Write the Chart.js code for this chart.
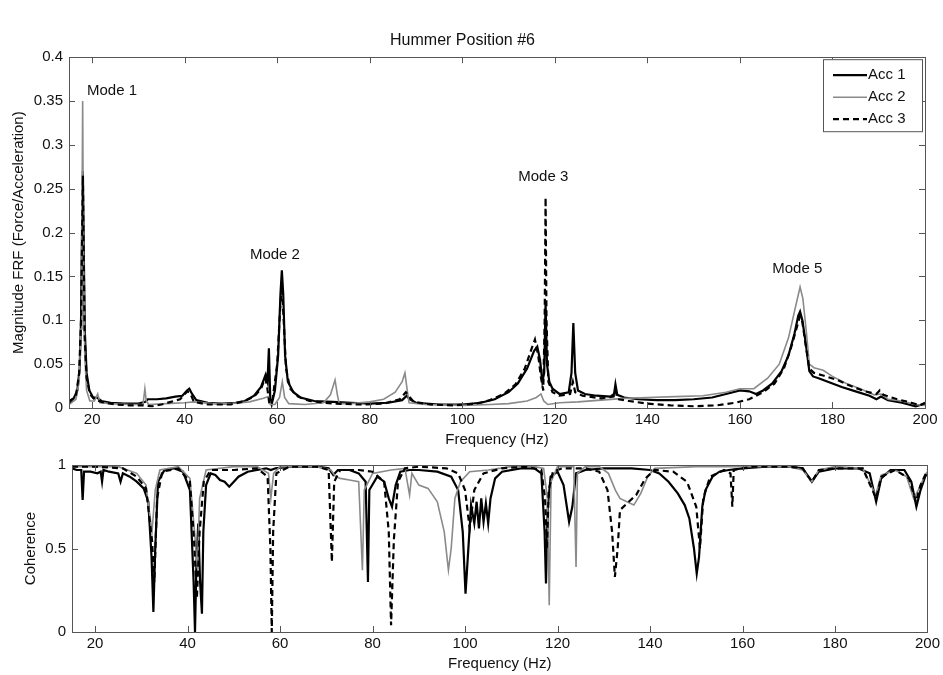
<!DOCTYPE html>
<html>
<head>
<meta charset="utf-8">
<script src="https://cdn.jsdelivr.net/npm/chart.js@4.4.0/dist/chart.umd.min.js"></script>
<style>
  body { margin: 0; background: #fff; }
  #wrap { position: relative; width: 943px; height: 675px; }
  canvas { position: absolute; left: 0; }
  #frf { top: 0; }
  #coh { top: 450px; }
</style>
</head>
<body>
<div id="wrap">
  <canvas id="frf" width="943" height="455"></canvas>
  <canvas id="coh" width="943" height="225"></canvas>
</div>
<script>
// ---- data ----
const seriesNames = ['Acc 1', 'Acc 2', 'Acc 3'];
const xTicks = [20, 40, 60, 80, 100, 120, 140, 160, 180, 200];
const frfTicks = [0, 0.05, 0.1, 0.15, 0.2, 0.25, 0.3, 0.35, 0.4];
const cohTicks = [0, 0.5, 1];

const modeLabels = ['Mode 1', 'Mode 2', 'Mode 3', 'Mode 5'];
const modeFreq = [24.3, 59.5, 117.5, 172.4];
const modeLevel = [0.362, 0.175, 0.263, 0.159];

// top: magnitude FRF
const frf1F = [15,16,16.8,17.3,17.6,17.85,18.0,18.15,18.4,18.8,19.4,20.2,21,22,24,27,30,31.5,32,34,36,38,39.5,40.5,41,41.6,42.5,45,48,51,53,55,56.5,57.5,57.9,58.2,58.5,58.8,59.5,60.2,60.7,61,61.3,61.7,62.3,63.5,65,68,72,76,80,84,87,88,88.6,90,95,100,104,107,110,112,114,115.5,116.2,116.8,117.3,117.7,118,118.3,118.8,119.5,121,123,123.6,124,124.4,125,126.5,129,132,132.8,133.1,133.5,135,138,142,146,150,154,157,160,162,163.5,165,167,169,170.5,171.8,172.6,173,173.5,174.2,175,175.8,177,179,182,185,188,189.5,190.5,192,195,198,200];
const frf1 = [0.008,0.011,0.02,0.045,0.1,0.22,0.27,0.2,0.09,0.04,0.02,0.012,0.012,0.008,0.006,0.005,0.005,0.007,0.01,0.01,0.011,0.013,0.014,0.02,0.022,0.016,0.009,0.006,0.005,0.006,0.008,0.014,0.024,0.038,0.03,0.068,0.01,0.004,0.02,0.06,0.13,0.157,0.13,0.06,0.03,0.018,0.012,0.008,0.007,0.006,0.005,0.006,0.009,0.014,0.01,0.006,0.004,0.004,0.006,0.01,0.018,0.028,0.045,0.065,0.07,0.055,0.03,0.04,0.12,0.05,0.03,0.022,0.016,0.018,0.04,0.097,0.04,0.02,0.016,0.014,0.013,0.016,0.027,0.015,0.012,0.01,0.009,0.009,0.01,0.012,0.016,0.02,0.019,0.016,0.02,0.028,0.042,0.06,0.085,0.105,0.11,0.1,0.075,0.042,0.036,0.034,0.03,0.024,0.019,0.014,0.01,0.013,0.009,0.006,0.002,0.005];

const frf2F = [15,16.5,17.2,17.6,17.8,17.95,18.1,18.4,18.8,19.5,20.5,21.2,21.7,24,28,31,31.4,31.7,32.2,36,40,42,46,50,54,57,58.1,58.5,59.5,60.5,61.1,61.6,62.5,66,70,71.5,72.5,73,73.4,76,80,83,85.5,87,87.6,88.1,88.5,92,100,106,110,114,116,117,117.6,118.5,121,125,130,135,140,146,152,157,160,163,166,168.5,170.5,172,173,173.6,174.3,175,176,178,180,183,186,189,190.5,192,195,198,200];
const frf2 = [0.004,0.01,0.03,0.09,0.2,0.35,0.2,0.06,0.02,0.008,0.008,0.016,0.006,0.005,0.004,0.004,0.022,0.008,0.004,0.005,0.006,0.007,0.005,0.005,0.007,0.011,0.013,0.004,0.004,0.012,0.03,0.012,0.005,0.004,0.006,0.015,0.032,0.015,0.005,0.005,0.007,0.01,0.018,0.03,0.04,0.02,0.006,0.004,0.003,0.004,0.005,0.008,0.012,0.016,0.008,0.004,0.006,0.007,0.009,0.011,0.012,0.013,0.014,0.018,0.022,0.022,0.034,0.05,0.08,0.115,0.138,0.125,0.09,0.05,0.046,0.043,0.036,0.028,0.022,0.015,0.016,0.01,0.008,0.004,0.003];

const frf3F = [15,16.5,17.2,17.6,17.85,18.0,18.15,18.4,18.8,19.5,20.5,22,25,28,31,33,35,37,39,40.6,41.2,42,45,50,53,55,56.5,57.4,57.8,58.3,59,60,60.6,61,61.4,61.9,62.8,64.5,67,72,78,83,86.5,87.8,88.4,89.5,93,98,103,106,109,111.5,113.5,115,115.7,116.4,117,117.5,117.8,118,118.2,118.6,119.5,121,123.3,123.9,124.4,126,130,132.7,133.1,133.6,136,140,145,150,155,159,162,165,167.5,169.5,171,172.3,173,173.5,174.2,175,176,178,181,184,187,189.5,190.2,191,194,197,199,200];
const frf3 = [0.006,0.014,0.04,0.1,0.2,0.265,0.18,0.08,0.035,0.016,0.01,0.007,0.004,0.003,0.003,0.002,0.004,0.007,0.01,0.019,0.017,0.007,0.004,0.004,0.008,0.013,0.022,0.034,0.025,0.005,0.01,0.05,0.11,0.14,0.1,0.045,0.022,0.013,0.008,0.005,0.004,0.005,0.01,0.018,0.014,0.007,0.004,0.003,0.005,0.009,0.016,0.027,0.045,0.068,0.078,0.06,0.035,0.02,0.1,0.24,0.1,0.03,0.018,0.014,0.016,0.03,0.018,0.014,0.011,0.013,0.02,0.01,0.008,0.005,0.003,0.002,0.003,0.006,0.01,0.018,0.028,0.045,0.068,0.092,0.105,0.098,0.072,0.045,0.04,0.037,0.032,0.025,0.019,0.016,0.02,0.015,0.01,0.006,0.003,0.006];

// bottom: coherence
const coh1F = [15,16,17,17.3,17.6,19,20.5,21.2,21.5,21.8,23,25,25.5,26,27.5,29,30.5,31.5,32.2,32.6,33,33.6,35,37,39,40.5,41.3,41.6,41.9,42.3,42.7,43.1,43.4,44,45,46,47,48,49,50,51,53,55,57,58,59,62,68,70.5,71.5,72.5,75,77,78.5,79,79.3,81,82.5,83.5,84.2,85,86,88,90,94,97,98.5,99.5,100.1,100.6,101.3,102,102.5,103,103.5,104,104.5,105,105.5,106.5,108,112,115,116.5,117.2,117.5,117.9,118.5,120,121.3,122.5,123.2,124,126,130,136,140,142,144,146,147.5,148.5,149.5,150.1,150.6,151.3,152,153.5,155,157,160,165,170,173,175,176.5,180,185,187.5,188.9,190,192,195,196.5,197.6,198.5,199.5,200];
const coh1 = [0.98,0.97,0.97,0.79,0.96,0.96,0.95,0.96,0.9,0.97,0.96,0.95,0.9,0.95,0.93,0.9,0.86,0.78,0.45,0.12,0.5,0.9,0.97,0.98,0.96,0.85,0.3,0.0,0.4,0.65,0.3,0.11,0.6,0.88,0.95,0.94,0.91,0.9,0.87,0.9,0.93,0.96,0.97,0.98,0.97,0.98,0.99,0.99,0.98,0.94,0.97,0.97,0.95,0.9,0.3,0.85,0.93,0.9,0.8,0.75,0.88,0.96,0.97,0.97,0.96,0.93,0.85,0.6,0.23,0.45,0.76,0.65,0.78,0.62,0.8,0.66,0.77,0.65,0.8,0.92,0.96,0.98,0.98,0.95,0.6,0.29,0.75,0.93,0.96,0.88,0.66,0.75,0.95,0.97,0.98,0.98,0.97,0.95,0.9,0.83,0.76,0.68,0.5,0.35,0.45,0.75,0.85,0.93,0.96,0.97,0.98,0.99,0.99,0.98,0.9,0.96,0.98,0.98,0.95,0.78,0.92,0.97,0.97,0.9,0.75,0.85,0.93,0.95];

const coh2F = [15,20,25,29,31,32.3,33,34,38,40.5,41.5,42.1,42.6,44,50,55,57.5,58,58.6,60,68,71,72,73,75,77,77.8,78.2,80,84,87,88,88.5,90,92,94,95.5,96.4,97,97.8,99,101,105,110,115,117,117.8,118.2,118.6,120,123.5,124,124.3,126,129,131,132.5,133.5,135,136.5,138,139.5,141,150,160,170,173,175,176.5,180,186,188.8,190,193,195.5,197,198,199.5,200];
const coh2 = [0.99,0.99,0.99,0.95,0.88,0.6,0.85,0.97,0.99,0.92,0.6,0.38,0.8,0.97,0.99,0.99,0.95,0.8,0.95,0.99,0.99,0.97,0.93,0.92,0.91,0.9,0.37,0.85,0.95,0.97,0.98,0.82,0.95,0.88,0.86,0.78,0.6,0.37,0.5,0.8,0.9,0.96,0.97,0.99,0.99,0.98,0.8,0.16,0.9,0.99,0.99,0.39,0.95,0.99,0.99,0.95,0.85,0.8,0.78,0.76,0.83,0.93,0.98,0.99,0.99,0.99,0.97,0.9,0.97,0.99,0.98,0.82,0.94,0.97,0.93,0.8,0.85,0.94,0.96];

const coh3F = [15,20,26,29,31,32.3,32.8,33.4,34.5,38,40.5,41.4,42.0,42.6,43.5,45,50,55,57.3,57.9,58.2,58.5,59.2,62,68,70.5,71.2,71.7,73,77,80,82.5,83.5,84,84.6,85.5,87,90,96,98.5,100,101,102,104,108,113,116.5,117.3,117.7,118.1,119,121,126,129,130.8,131.8,132.4,133,133.5,135,137,139,141,145,148,150,150.8,151.5,153,156,157.4,157.8,158.1,162,170,173,175,176.5,180,186,188.9,190,193,196,197.5,198.5,200];
const coh3 = [0.99,0.99,0.98,0.93,0.86,0.55,0.3,0.8,0.96,0.98,0.9,0.55,0.2,0.6,0.9,0.97,0.97,0.98,0.93,0.5,0.0,0.6,0.95,0.99,0.99,0.97,0.42,0.9,0.97,0.97,0.96,0.9,0.6,0.04,0.55,0.9,0.98,0.99,0.98,0.95,0.85,0.62,0.85,0.95,0.98,0.99,0.97,0.8,0.5,0.85,0.96,0.98,0.98,0.96,0.85,0.6,0.33,0.5,0.73,0.77,0.82,0.92,0.97,0.96,0.9,0.75,0.5,0.8,0.93,0.97,0.95,0.75,0.97,0.99,0.99,0.98,0.9,0.97,0.98,0.98,0.8,0.93,0.97,0.92,0.78,0.88,0.97];

// ---- styling ----
const FONT = 'Liberation Sans, Arial, sans-serif';
const styles = [
  { borderColor: '#000', borderWidth: 2.2, borderDash: [] },
  { borderColor: '#8a8a8a', borderWidth: 1.6, borderDash: [] },
  { borderColor: '#000', borderWidth: 2.2, borderDash: [6, 4] }
];

const toXY = (f, v) => f.map((x, i) => ({ x: x, y: v[i] }));

function makeSets(pairs) {
  return pairs.map((p, i) => Object.assign({
    label: seriesNames[i],
    data: toXY(p[0], p[1]),
    showLine: true,
    pointRadius: 0,
    tension: 0,
    order: 3 - i
  }, styles[i]));
}

// MATLAB-style box with inward ticks
const framePlugin = {
  id: 'frame',
  afterDatasetsDraw(chart) {
    const { ctx, chartArea: a, scales } = chart;
    ctx.save();
    ctx.strokeStyle = '#555';
    ctx.lineWidth = 1;
    ctx.strokeRect(Math.round(a.left) + 0.5, Math.round(a.top) + 0.5, Math.round(a.width), Math.round(a.height));
    ctx.beginPath();
    scales.x.ticks.forEach(t => {
      const p = Math.round(scales.x.getPixelForValue(t.value)) + 0.5;
      ctx.moveTo(p, a.bottom); ctx.lineTo(p, a.bottom - 6);
      ctx.moveTo(p, a.top); ctx.lineTo(p, a.top + 6);
    });
    scales.y.ticks.forEach(t => {
      const p = Math.round(scales.y.getPixelForValue(t.value)) + 0.5;
      ctx.moveTo(a.left, p); ctx.lineTo(a.left + 6, p);
      ctx.moveTo(a.right, p); ctx.lineTo(a.right - 6, p);
    });
    ctx.stroke();
    ctx.restore();
  }
};

const legendBox = {
  id: 'legendBox',
  afterDatasetsDraw(chart, args, opts) {
    if (!opts.show) return;
    const { ctx, chartArea: a } = chart;
    const w = 99, h = 72;
    const x0 = a.right - w - 3, y0 = a.top + 2;
    ctx.save();
    ctx.fillStyle = '#fff';
    ctx.fillRect(x0, y0, w, h);
    ctx.strokeStyle = '#555';
    ctx.lineWidth = 1;
    ctx.strokeRect(x0 + 0.5, y0 + 0.5, w, h);
    ctx.font = '15px ' + FONT;
    ctx.textBaseline = 'middle';
    ctx.fillStyle = '#111';
    chart.data.datasets.forEach((ds, i) => {
      const y = y0 + 16 + i * 22;
      ctx.beginPath();
      ctx.strokeStyle = ds.borderColor;
      ctx.lineWidth = ds.borderWidth;
      ctx.setLineDash(ds.borderDash);
      ctx.moveTo(x0 + 10, y); ctx.lineTo(x0 + 44, y);
      ctx.stroke();
      ctx.setLineDash([]);
      ctx.fillText(ds.label, x0 + 45, y);
    });
    ctx.restore();
  }
};

const modeNotes = {
  id: 'modeNotes',
  afterDatasetsDraw(chart, args, opts) {
    if (!opts.labels) return;
    const { ctx, scales } = chart;
    ctx.save();
    ctx.font = '15px ' + FONT;
    ctx.fillStyle = '#111';
    ctx.textAlign = 'center';
    ctx.textBaseline = 'middle';
    opts.labels.forEach((s, i) => {
      ctx.fillText(s, scales.x.getPixelForValue(opts.x[i]), scales.y.getPixelForValue(opts.y[i]));
    });
    ctx.restore();
  }
};

function axisOptions(yTicks, yMax, yTitle, yWidth, xHeight, yTitlePad, xTitlePad) {
  return {
    x: {
      type: 'linear', min: 15, max: 200,
      afterFit: s => { s.height = xHeight; },
      afterBuildTicks: s => { s.ticks = xTicks.map(v => ({ value: v })); },
      grid: { display: false, drawTicks: false },
      border: { display: false },
      ticks: { color: '#111', font: { family: FONT, size: 15 }, padding: 3, maxRotation: 0, callback: v => String(v) },
      title: { display: true, text: 'Frequency (Hz)', color: '#111', font: { family: FONT, size: 15 }, padding: { top: 0, bottom: xTitlePad } }
    },
    y: {
      type: 'linear', min: 0, max: yMax,
      afterFit: s => { s.width = yWidth; },
      afterBuildTicks: s => { s.ticks = yTicks.map(v => ({ value: v })); },
      grid: { display: false, drawTicks: false },
      border: { display: false },
      ticks: { color: '#111', font: { family: FONT, size: 15 }, padding: 6, callback: v => String(v) },
      title: { display: true, text: yTitle, color: '#111', font: { family: FONT, size: 15 }, padding: { top: yTitlePad, bottom: 0 } }
    }
  };
}

new Chart(document.getElementById('frf'), {
  type: 'scatter',
  data: { datasets: makeSets([[frf1F, frf1], [frf2F, frf2], [frf3F, frf3]]) },
  options: {
    responsive: false,
    animation: false,
    layout: { padding: { left: 0, right: 18, top: 0, bottom: 0 } },
    scales: axisOptions(frfTicks, 0.4, 'Magnitude FRF (Force/Acceleration)', 69, 47, 10, 6),
    plugins: {
      legend: { display: false },
      tooltip: { enabled: false },
      title: { display: true, text: 'Hummer Position #6', color: '#111', font: { family: FONT, size: 16, weight: 'normal' }, padding: { top: 31, bottom: 7 } },
      legendBox: { show: true },
      modeNotes: { labels: modeLabels, x: modeFreq, y: modeLevel }
    }
  },
  plugins: [framePlugin, legendBox, modeNotes]
});

new Chart(document.getElementById('coh'), {
  type: 'scatter',
  data: { datasets: makeSets([[coh1F, coh1], [coh2F, coh2], [coh3F, coh3]]) },
  options: {
    responsive: false,
    animation: false,
    layout: { padding: { left: 0, right: 14, top: 15, bottom: 0 } },
    scales: axisOptions(cohTicks, 1, 'Coherence', 72, 43, 22, 2),
    plugins: {
      legend: { display: false },
      tooltip: { enabled: false },
      legendBox: { show: false },
      modeNotes: {}
    }
  },
  plugins: [framePlugin, legendBox, modeNotes]
});
</script>
</body>
</html>
